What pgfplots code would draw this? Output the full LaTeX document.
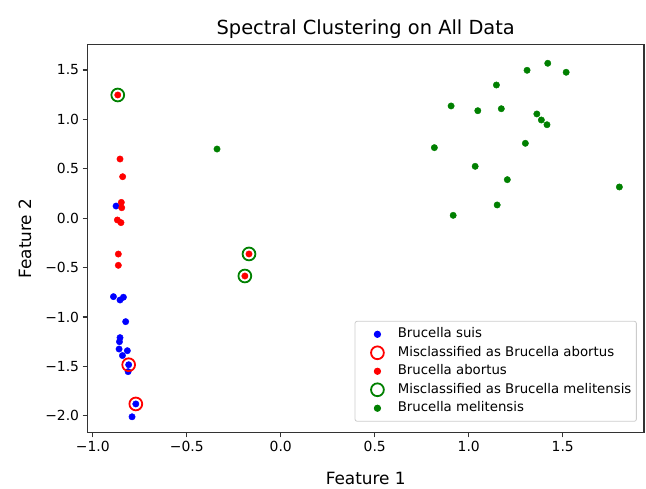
\documentclass[border=0pt]{standalone}
\usepackage{fontspec}
\setmainfont{DejaVu Sans}
\usepackage{pgfplots}
\pgfplotsset{compat=1.18}
\definecolor{mplgreen}{HTML}{008000}
\begin{document}
\begin{tikzpicture}
\begin{axis}[
  scale only axis,
  width=556.5bp, height=388bp,
  xmin=-1.028, xmax=1.932,
  ymin=-2.169, ymax=1.758,
  xtick={-1,-0.5,0,0.5,1,1.5},
  xticklabels={−1.0,−0.5,0.0,0.5,1.0,1.5},
  ytick={-2,-1.5,-1,-0.5,0,0.5,1,1.5},
  yticklabels={−2.0,−1.5,−1.0,−0.5,0.0,0.5,1.0,1.5},
  tick align=outside,
  major tick length=4.9bp,
  tick style={line width=1.1bp, black!80},
  xtick pos=bottom, ytick pos=left,
  axis line style={line width=1.1bp, black!80},
  ticklabel style={font=\fontsize{13.9bp}{16bp}\selectfont},
  title={Spectral Clustering on All Data},
  title style={font=\fontsize{19.4bp}{22bp}\selectfont, at={(0.5,1)}, anchor=south, inner sep=0pt, yshift=0bp},
  xlabel={Feature 1},
  xlabel style={font=\fontsize{16.9bp}{19bp}\selectfont, at={(axis description cs:0.5,0)}, anchor=north, inner sep=0pt, yshift=-39.5bp},
  ylabel={Feature 2},
  ylabel style={font=\fontsize{16.9bp}{19bp}\selectfont, at={([xshift=-56bp]axis description cs:0,0.5)}, anchor=south, inner sep=0pt},
  legend cell align=left,
  legend style={at={(0.987,0.028)}, anchor=south east,
    draw=black!20, rounded corners=2bp, line width=0.8bp,
    font=\fontsize{13.3bp}{15bp}\selectfont,
    inner xsep=3bp, inner ysep=4.5bp, row sep=1.5bp,
    nodes={text height=10bp, text depth=3bp}},
  legend image code/.code={\path (-8bp,-1bp) (29bp,1bp); \draw[mark repeat=2,mark phase=2] plot coordinates {(0bp,0bp) (11bp,0bp) (22bp,0bp)};},
]
% Brucella suis
\addplot[only marks, mark=*, mark size=3.2bp, color=blue, fill=blue] coordinates {
(-0.876,0.123)
(-0.890,-0.794) (-0.855,-0.828) (-0.837,-0.800)
(-0.825,-1.047)
(-0.855,-1.209) (-0.858,-1.250) (-0.860,-1.324) (-0.816,-1.341) (-0.842,-1.390)
(-0.809,-1.483) (-0.812,-1.553)
(-0.771,-1.880) (-0.791,-2.010)
};
\addlegendentry{Brucella suis}
% Misclassified as abortus
\addplot[only marks, mark=o, mark size=6.4bp, color=red, mark options={line width=1.8bp}] coordinates {
(-0.809,-1.483) (-0.771,-1.880)
};
\addlegendentry{Misclassified as Brucella abortus}
% Brucella abortus
\addplot[only marks, mark=*, mark size=3.2bp, color=red, fill=red] coordinates {
(-0.867,1.247)
(-0.855,0.599) (-0.841,0.420) (-0.848,0.160) (-0.846,0.106)
(-0.869,-0.018) (-0.850,-0.045)
(-0.864,-0.363) (-0.864,-0.477)
(-0.169,-0.362) (-0.191,-0.585)
};
\addlegendentry{Brucella abortus}
% Misclassified as melitensis
\addplot[only marks, mark=o, mark size=6.4bp, color=mplgreen, mark options={line width=1.8bp}] coordinates {
(-0.867,1.247) (-0.169,-0.362) (-0.191,-0.585)
};
\addlegendentry{Misclassified as Brucella melitensis}
% Brucella melitensis
\addplot[only marks, mark=*, mark size=3.2bp, color=mplgreen, fill=mplgreen] coordinates {
(-0.339,0.700)
(1.420,1.568) (1.310,1.497) (1.518,1.477) (1.147,1.348)
(0.906,1.136) (1.048,1.088) (1.173,1.108)
(1.362,1.055) (1.386,0.994) (1.416,0.946)
(1.301,0.758) (0.817,0.714) (1.034,0.525) (1.205,0.390)
(1.801,0.316) (1.151,0.134) (0.917,0.029)
};
\addlegendentry{Brucella melitensis}
\end{axis}
\pgfresetboundingbox
\path[use as bounding box] ([shift={(-87.5bp,-56.5bp)}]current axis.south west) rectangle ([shift={(2bp,44.5bp)}]current axis.north east);
\end{tikzpicture}
\end{document}
